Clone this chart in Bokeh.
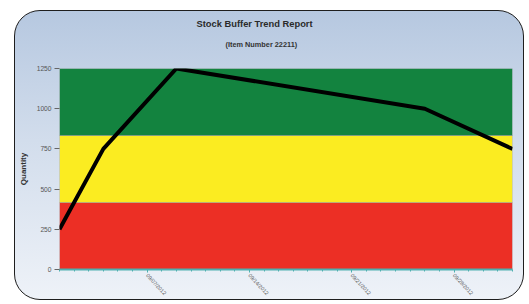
from datetime import datetime
from bokeh.plotting import figure
from bokeh.models import (Range1d, FixedTicker, DatetimeTickFormatter, Title,
                          BoxAnnotation)
from bokeh.embed import file_html
from bokeh.resources import INLINE

# ---- data ----
dates = ["2012-09-01", "2012-09-04", "2012-09-09", "2012-09-26", "2012-10-02"]
quantity = [250, 750, 1250, 1000, 750]
tick_dates = ["2012-09-07", "2012-09-14", "2012-09-21", "2012-09-28"]
y_ticks = [0, 250, 500, 750, 1000, 1250]
band_limits = [0, 416.7, 833.3, 1250]
band_colors = ["#ec2f25", "#fbec21", "#13833f"]
title_text = "Stock Buffer Trend Report"
subtitle_text = "(Item Number 22211)"
y_label = "Quantity"


def ms(s):
    return datetime.strptime(s, "%Y-%m-%d").timestamp() * 1000.0


xs = [datetime.strptime(d, "%Y-%m-%d") for d in dates]

p = figure(width=510, height=290, x_axis_type="datetime",
           output_backend="svg", toolbar_location=None,
           x_range=Range1d(ms(dates[0]), ms(dates[-1])),
           y_range=Range1d(0, 1250),
           min_border_left=43, min_border_right=13,
           min_border_top=57, min_border_bottom=26)

p.styles = {
    "border": "1.5px solid #1e1e1e",
    "border-radius": "26px",
    "background": "linear-gradient(to bottom, #b6c8e0 0%, #d2ddec 45%, #eef2f8 100%)",
    "margin-left": "14px",
    "margin-top": "10px",
}
p.border_fill_alpha = 0
p.background_fill_alpha = 0
p.outline_line_color = None
p.grid.visible = False

# titles (a blank spacer sits between the subtitle and the plot area)
spacer = Title(text=" ", align="left", text_font_size="5.5pt", standoff=1)
p.add_layout(spacer, "above")
sub = Title(text=subtitle_text, align="left", text_font_size="5.5pt",
            text_font_style="bold", text_color="#333333", text_font="Arial",
            offset=166, standoff=15)
p.add_layout(sub, "above")
ttl = Title(text=title_text, align="left", text_font_size="7pt",
            text_font_style="bold", text_color="#2a2a2a", text_font="Arial",
            offset=137, standoff=4)
p.add_layout(ttl, "above")

# bands
for lo, hi, c in zip(band_limits[:-1], band_limits[1:], band_colors):
    p.add_layout(BoxAnnotation(bottom=lo, top=hi, fill_color=c, fill_alpha=1,
                               line_color="#999999", line_alpha=0.5, line_width=1,
                               level="underlay"))

p.line(xs, quantity, line_color="#000000", line_width=4, line_join="round")

# axes
p.yaxis.ticker = FixedTicker(ticks=y_ticks)
p.yaxis.axis_label = y_label
p.yaxis.axis_label_text_font_size = "6pt"
p.yaxis.axis_label_text_font_style = "bold"
p.yaxis.axis_label_text_color = "#333333"
p.yaxis.axis_label_standoff = 6
p.yaxis.major_label_text_font_size = "5pt"
p.yaxis.major_label_text_color = "#555555"
p.yaxis.major_label_standoff = 3
p.yaxis.axis_line_color = None
p.yaxis.major_tick_line_color = "#666666"
p.yaxis.major_tick_out = 5
p.yaxis.major_tick_in = 0
p.yaxis.minor_tick_line_color = None

p.xaxis.ticker = FixedTicker(ticks=[ms(t) for t in tick_dates],
                             minor_ticks=[ms(dates[0]) + i * 86400000.0 for i in range(32)])
p.xaxis.formatter = DatetimeTickFormatter(days="%m/%d/%Y", months="%m/%d/%Y")
p.xaxis.major_label_orientation = -0.82
p.xaxis.major_label_text_font_size = "4pt"
p.xaxis.major_label_text_color = "#555555"
p.xaxis.major_label_standoff = 2
p.xaxis.axis_line_color = "#4fb0b0"
p.xaxis.axis_line_width = 2
p.xaxis.major_tick_line_color = "#4fb0b0"
p.xaxis.major_tick_out = 3
p.xaxis.major_tick_in = 0
p.xaxis.minor_tick_line_color = "#4fb0b0"
p.xaxis.minor_tick_out = 2
p.xaxis.minor_tick_in = 0

open("out.html", "w").write(file_html(p, INLINE))
